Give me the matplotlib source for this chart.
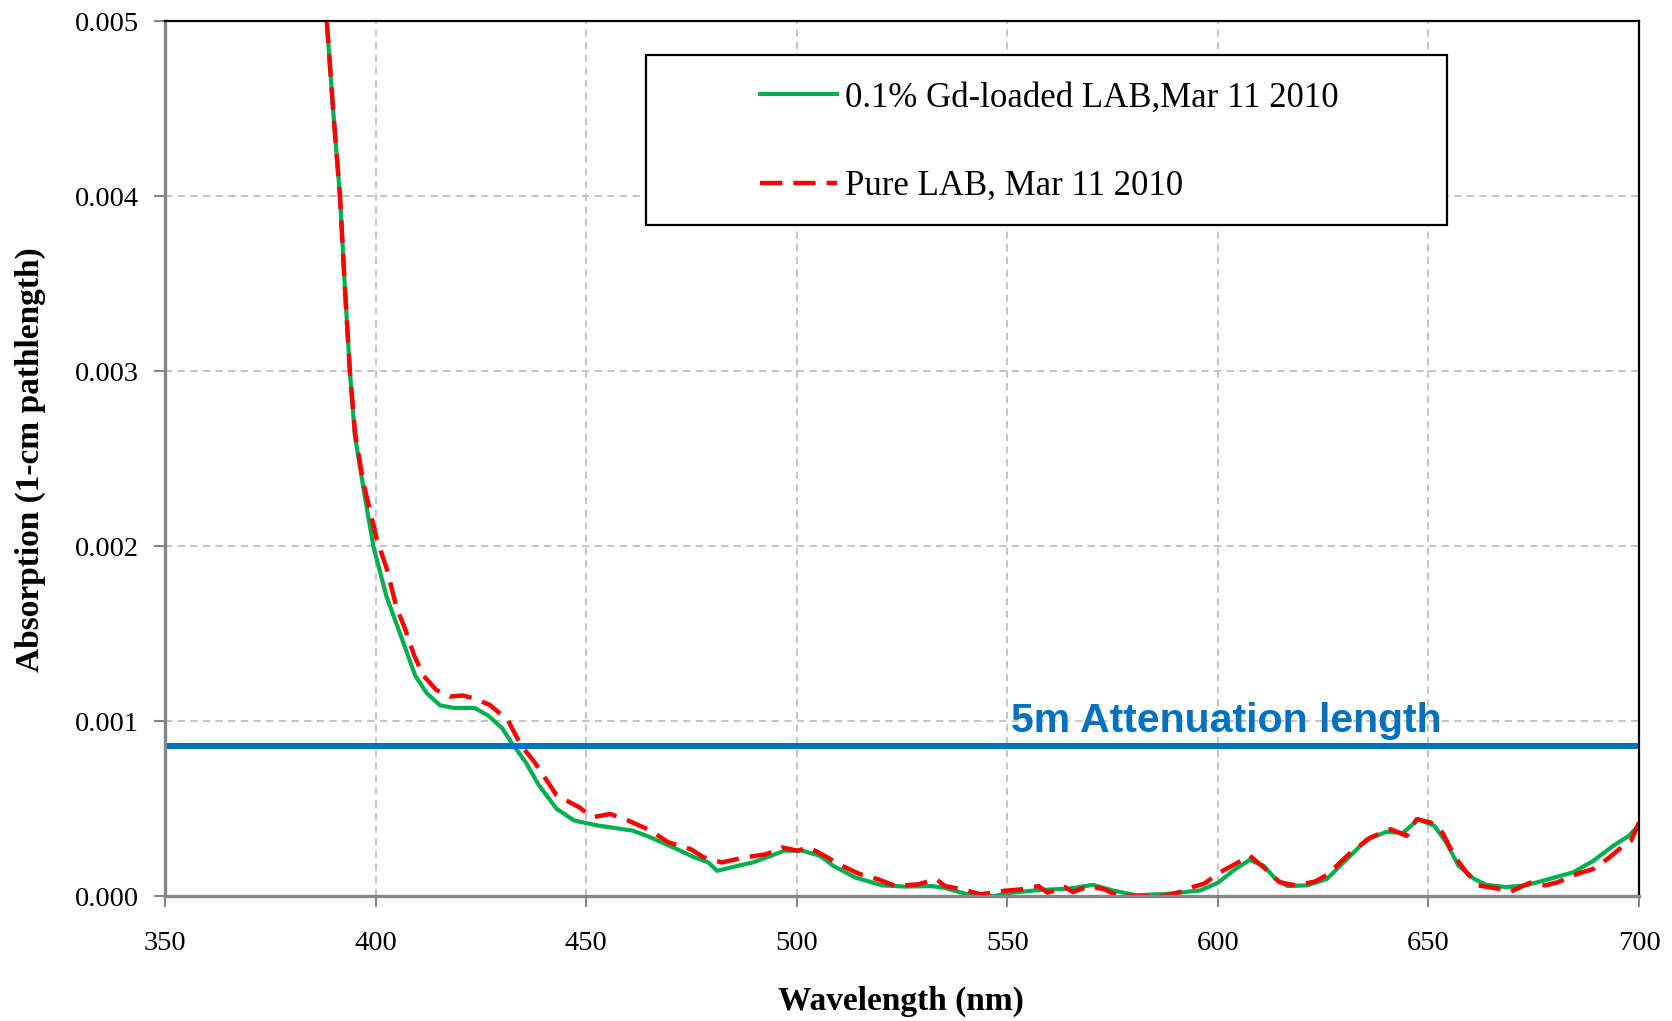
import matplotlib
matplotlib.use("Agg")
import matplotlib.pyplot as plt
from matplotlib.patches import Rectangle

# spectra (wavelength nm, absorption x1e-3)
wl_gd = [388.4, 390.0, 391.55, 392.7, 393.9, 395.1, 397.1, 399.5, 402.6, 405.8,
         409.4, 412.1, 415.3, 418.5, 423.5, 426.8, 430.0, 432.2, 435.6, 438.8,
         443.0, 447.2, 453.0, 461.0, 465.3, 470.6, 475.8, 479.0, 481.1, 484.3,
         489.6, 493.9, 497.0, 501.3, 505.5, 508.7, 514.0, 520.3, 525.6, 532.0,
         535.2, 540.5, 546.8, 551.1, 557.4, 564.6, 570.3, 575.0, 580.7, 588.2,
         595.8, 600.0, 604.2, 607.5, 610.8, 613.7, 616.5, 621.2, 625.9, 630.7,
         635.4, 640.1, 643.9, 647.6, 651.4, 654.2, 657.1, 660.8, 663.7, 668.4,
         673.1, 678.8, 684.4, 689.2, 693.9, 697.6, 700.0]
abs_gd = [5.00, 4.465, 3.995, 3.48, 2.995, 2.628, 2.333, 1.995, 1.710, 1.50,
          1.26, 1.16, 1.09, 1.075, 1.075, 1.03, 0.96, 0.88, 0.766, 0.632,
          0.498, 0.431, 0.402, 0.374, 0.335, 0.278, 0.220, 0.192, 0.144, 0.163,
          0.192, 0.230, 0.259, 0.259, 0.230, 0.172, 0.105, 0.061, 0.054, 0.057,
          0.046, 0.010, 0.000, 0.019, 0.034, 0.042, 0.064, 0.032, 0.004, 0.013,
          0.032, 0.076, 0.155, 0.206, 0.174, 0.098, 0.057, 0.061, 0.098, 0.212,
          0.325, 0.367, 0.360, 0.439, 0.401, 0.307, 0.174, 0.098, 0.064, 0.051,
          0.061, 0.098, 0.136, 0.202, 0.288, 0.344, 0.405]

wl_pure = [388.4, 390.0, 391.55, 392.7, 393.9, 395.1, 397.1, 400.3, 402.6, 405.0,
           406.9, 409.1, 411.2, 414.4, 417.6, 420.8, 423.9, 427.1, 431.4, 434.5,
           437.7, 440.9, 443.0, 448.3, 451.5, 455.7, 460.0, 465.3, 469.5, 474.8,
           478.0, 482.2, 487.5, 492.8, 496.5, 500.2, 502.9, 506.6, 510.8, 515.0,
           519.3, 523.5, 528.8, 533.1, 535.2, 539.4, 543.6, 549.0, 553.2, 557.4,
           559.6, 563.7, 565.6, 569.3, 573.1, 576.4, 580.7, 587.3, 591.0, 593.9,
           596.7, 600.5, 604.2, 607.5, 610.8, 614.6, 618.4, 623.1, 625.9, 631.6,
           636.3, 641.0, 644.8, 647.2, 650.5, 653.3, 656.1, 659.0, 661.8, 666.5,
           669.3, 674.1, 677.8, 680.7, 685.4, 689.2, 693.0, 695.8, 698.1, 700.0]
abs_pure = [5.00, 4.465, 3.995, 3.48, 2.995, 2.65, 2.36, 2.038, 1.874, 1.646,
            1.533, 1.379, 1.264, 1.178, 1.140, 1.146, 1.125, 1.092, 1.006, 0.862,
            0.766, 0.651, 0.575, 0.508, 0.450, 0.469, 0.431, 0.374, 0.307, 0.268,
            0.220, 0.192, 0.220, 0.239, 0.278, 0.259, 0.278, 0.230, 0.172, 0.125,
            0.096, 0.057, 0.067, 0.096, 0.057, 0.038, 0.010, 0.029, 0.038, 0.057,
            0.019, 0.051, 0.023, 0.057, 0.038, 0.000, 0.000, 0.000, 0.023, 0.051,
            0.070, 0.136, 0.184, 0.231, 0.165, 0.079, 0.061, 0.083, 0.121, 0.250,
            0.335, 0.382, 0.344, 0.439, 0.420, 0.363, 0.231, 0.136, 0.061, 0.042,
            0.023, 0.076, 0.061, 0.079, 0.127, 0.155, 0.221, 0.278, 0.316, 0.420]

atten_level = 0.00086
label_gd = "0.1% Gd-loaded LAB,Mar 11 2010"
label_pure = "Pure LAB, Mar 11 2010"
x_ticks = [350, 400, 450, 500, 550, 600, 650, 700]
y_ticks = [0.000, 0.001, 0.002, 0.003, 0.004, 0.005]

serif = "Liberation Serif"

fig = plt.figure(figsize=(16.72, 10.21), dpi=100)
ax = fig.add_axes([0.0987, 0.1224, 0.8816, 0.8570])

ax.plot(wl_gd, [v * 1e-3 for v in abs_gd], color="#00B050", lw=3.0, label=label_gd)
ax.plot(wl_pure, [v * 1e-3 for v in abs_pure], color="#FF0000", lw=3.2,
        dashes=(5, 2.5), label=label_pure)
ax.axhline(atten_level, color="#0070C0", lw=4.3)
ax.text(550.9, 0.00094, "5m Attenuation length", color="#0070C0", fontsize=29.5,
        fontweight="bold", family="Liberation Sans", va="baseline", ha="left")

ax.set_xlim(350, 700)
ax.set_ylim(0, 0.005)
ax.set_xticks(x_ticks)
ax.set_yticks(y_ticks)
ax.set_xticklabels([str(t) for t in x_ticks], family=serif, fontsize=20.5)
ax.set_yticklabels(["%.3f" % t for t in y_ticks], family=serif, fontsize=20.5)
ax.tick_params(axis="x", direction="out", length=8, width=1.5, color="#868686", pad=17)
ax.tick_params(axis="y", direction="out", length=8, width=1.5, color="#868686", pad=11)

ax.grid(True, color="#BFBFBF", linestyle=(0, (4, 3)), linewidth=1.3)
ax.set_axisbelow(True)
for s in ["left", "bottom"]:
    ax.spines[s].set_color("#868686")
    ax.spines[s].set_linewidth(2.4)
for s in ["top", "right"]:
    ax.spines[s].set_color("black")
    ax.spines[s].set_linewidth(1.6)

ax.set_xlabel("Wavelength (nm)", family=serif, fontsize=24, fontweight="bold")
ax.set_ylabel("Absorption (1-cm pathlength)", family=serif, fontsize=24, fontweight="bold")
ax.xaxis.set_label_coords(0.499, -0.103)
ax.yaxis.set_label_coords(-0.081, 0.499)

# legend box drawn separately, entries sit inside it
ax.add_patch(Rectangle((0.326, 0.767), 0.544, 0.194, transform=ax.transAxes,
                       facecolor="white", edgecolor="black", lw=1.6, zorder=4))
leg = ax.legend(loc="upper left", bbox_to_anchor=(0.392, 0.951), frameon=False,
                prop={"family": serif, "size": 25}, handlelength=2.2,
                handletextpad=0.25, labelspacing=1.6, borderpad=0)
leg.set_zorder(5)

fig.savefig("out.png", dpi=100)
